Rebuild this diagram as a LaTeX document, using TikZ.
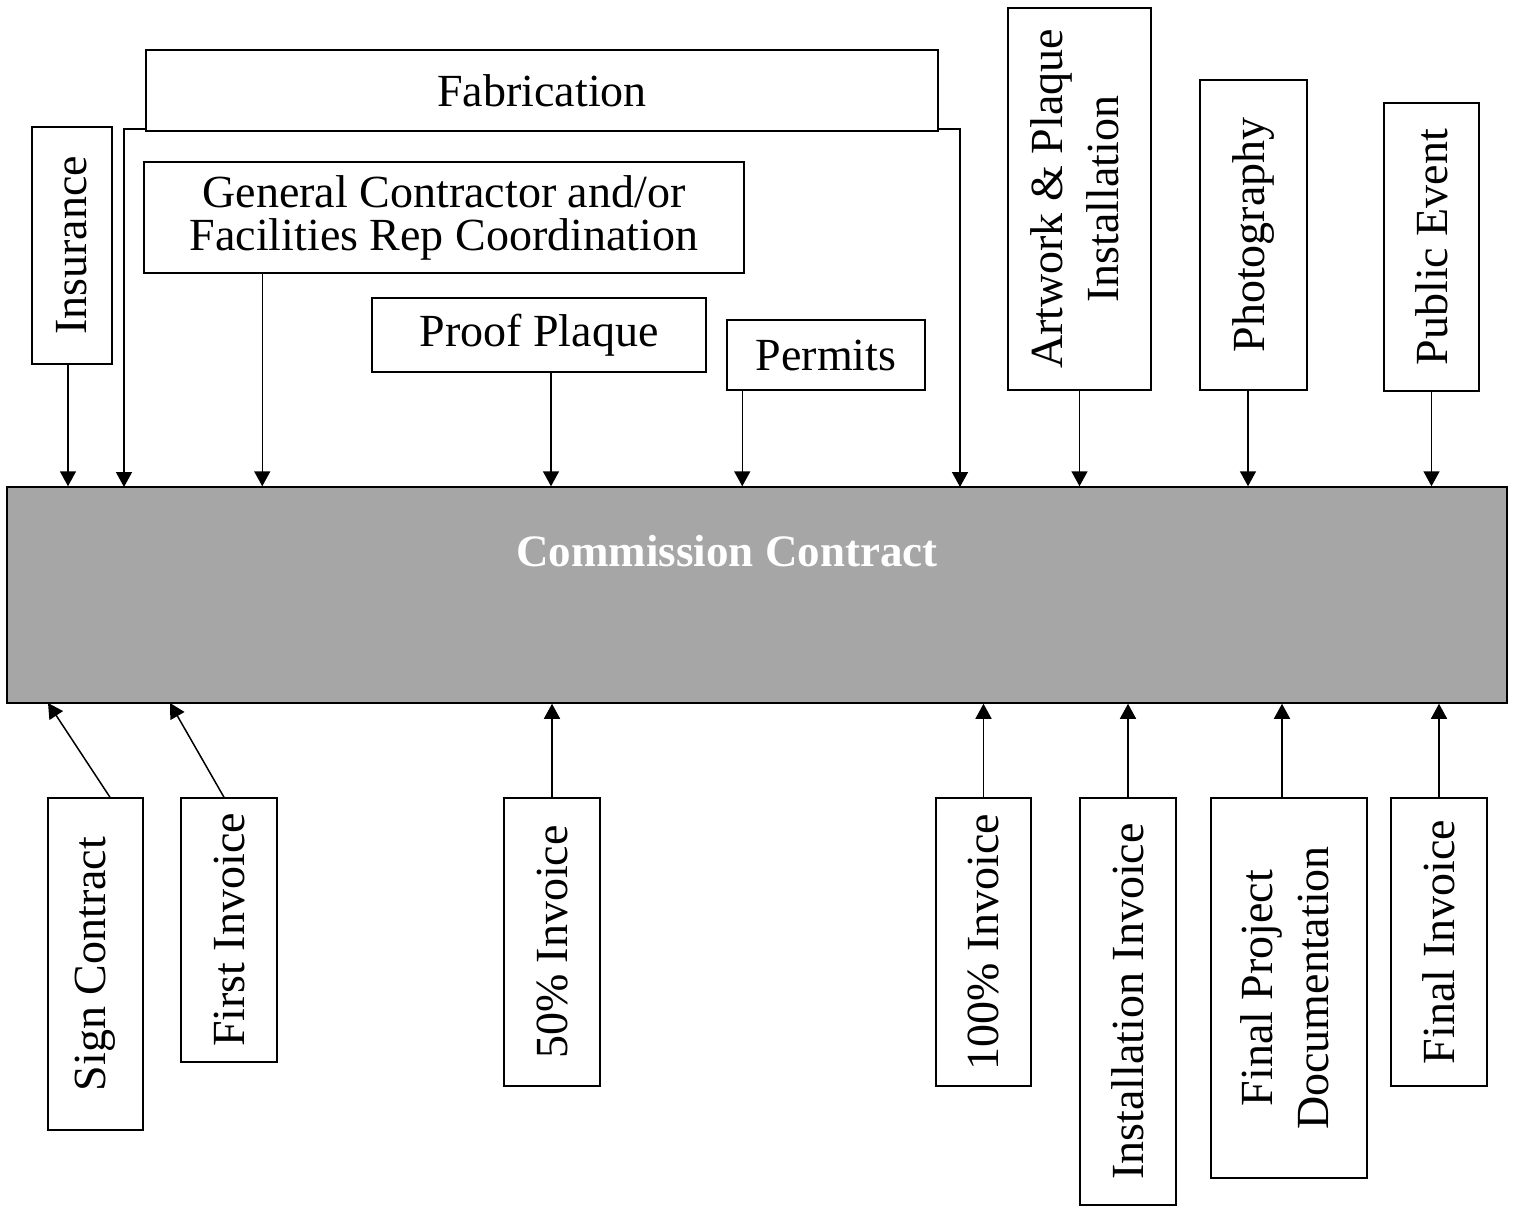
\documentclass[tikz,border=0pt]{standalone}
\usepackage{fontspec}
\setmainfont{Liberation Serif}
\usepackage{graphicx}
\usepackage{tikz}
\usetikzlibrary{arrows.meta}
\tikzset{
  box/.style={draw, line width=0.75pt, fill=white, inner sep=0pt, align=center},
  arr/.style={-{Triangle[length=7.5pt,width=8pt]}, line width=0.75pt},
  contract/.style={draw, line width=0.75pt, fill=gray!70!white, inner sep=0pt}
}
\newcommand{\up}[1]{\rotatebox{90}{#1}}
\newcommand{\uptwo}[2]{\rotatebox{90}{\begin{tabular}{@{}c@{}}#1\\#2\end{tabular}}}

\begin{document}
\begin{tikzpicture}[x=0.5pt,y=-0.5pt,font=\fontsize{23pt}{28pt}\selectfont]
\useasboundingbox (0,0) rectangle (1515,1207);

% Commission contract bar
\node[contract, minimum width=750pt, minimum height=108pt] (cc) at (757,595) {};
\node[text=white, font=\fontsize{22.5pt}{28pt}\selectfont\bfseries] (cctext) at (727,551) {Commission Contract};

% Top boxes
\node[box, minimum width=40pt, minimum height=118.5pt] (ins) at (72,245.5) {\up{Insurance}};
\node[box, minimum width=396pt, minimum height=40.5pt] (fab) at (542,90.5) {Fabrication};
\node[box, minimum width=300pt, minimum height=55.5pt, font=\fontsize{23pt}{21.5pt}\selectfont] (gc) at (444,217.5) {General Contractor and/or\\Facilities Rep Coordination};
\node[box, minimum width=167pt, minimum height=37pt] (pp) at (539,335) {Proof Plaque};
\node[box, minimum width=99pt, minimum height=35pt] (per) at (826,355) {Permits};
\node[box, minimum width=71.5pt, minimum height=191pt] (art) at (1079.5,199) {\uptwo{Artwork \& Plaque}{Installation}};
\node[box, minimum width=53.5pt, minimum height=155pt] (pho) at (1253.5,235) {\up{Photography}};
\node[box, minimum width=47.5pt, minimum height=144pt] (pub) at (1431.5,247) {\up{Public Event}};

% Arrows into the contract
\draw[arr] ([xshift=-2pt]ins.south) coordinate (a1) -- (a1 |- cc.north);
\coordinate (fabL) at (124,487);
\coordinate (fabR) at (960,487);
\draw[arr] ([yshift=1.5pt]fab.south west) -| (fabL);
\draw[arr] ([yshift=1.5pt]fab.south east) -| (fabR);
\draw[arr] ([xshift=59.5pt]gc.south west) coordinate (a2) -- (a2 |- cc.north);
\draw[arr] ([xshift=6pt]pp.south) coordinate (a3) -- (a3 |- cc.north);
\draw[arr] ([xshift=8pt]per.south west) coordinate (a4) -- (a4 |- cc.north);
\draw[arr] (art.south) -- (art.south |- cc.north);
\draw[arr] ([xshift=-2.75pt]pho.south) coordinate (a5) -- (a5 |- cc.north);
\draw[arr] (pub.south) -- (pub.south |- cc.north);

% Bottom boxes
\node[box, minimum width=47.5pt, minimum height=166pt] (sign) at (95.5,964) {\up{Sign Contract}};
\node[box, minimum width=48pt, minimum height=132pt] (first) at (229,930) {\up{First Invoice}};
\node[box, minimum width=48pt, minimum height=144pt] (fifty) at (552,942) {\up{50\% Invoice}};
\node[box, minimum width=47.5pt, minimum height=144pt] (hund) at (983.5,942) {\up{100\% Invoice}};
\node[box, minimum width=48pt, minimum height=203.5pt] (inst) at (1128,1001.5) {\up{Installation Invoice}};
\node[box, minimum width=78pt, minimum height=190pt] (fpd) at (1289,988) {\uptwo{Final Project}{Documentation}};
\node[box, minimum width=48pt, minimum height=144pt] (fin) at (1439,942) {\up{Final Invoice}};

% Arrows out of the bottom boxes
\coordinate (s1) at (48,703);
\coordinate (s2) at (170,703);
\draw[arr] ([xshift=7.25pt]sign.north) -- (s1);
\draw[arr] ([xshift=-2.5pt]first.north) -- (s2);
\draw[arr] (fifty.north) -- (fifty.north |- cc.south);
\draw[arr] (hund.north) -- (hund.north |- cc.south);
\draw[arr] (inst.north) -- (inst.north |- cc.south);
\draw[arr] ([xshift=-3.5pt]fpd.north) coordinate (b1) -- (b1 |- cc.south);
\draw[arr] (fin.north) -- (fin.north |- cc.south);
\end{tikzpicture}
\end{document}
